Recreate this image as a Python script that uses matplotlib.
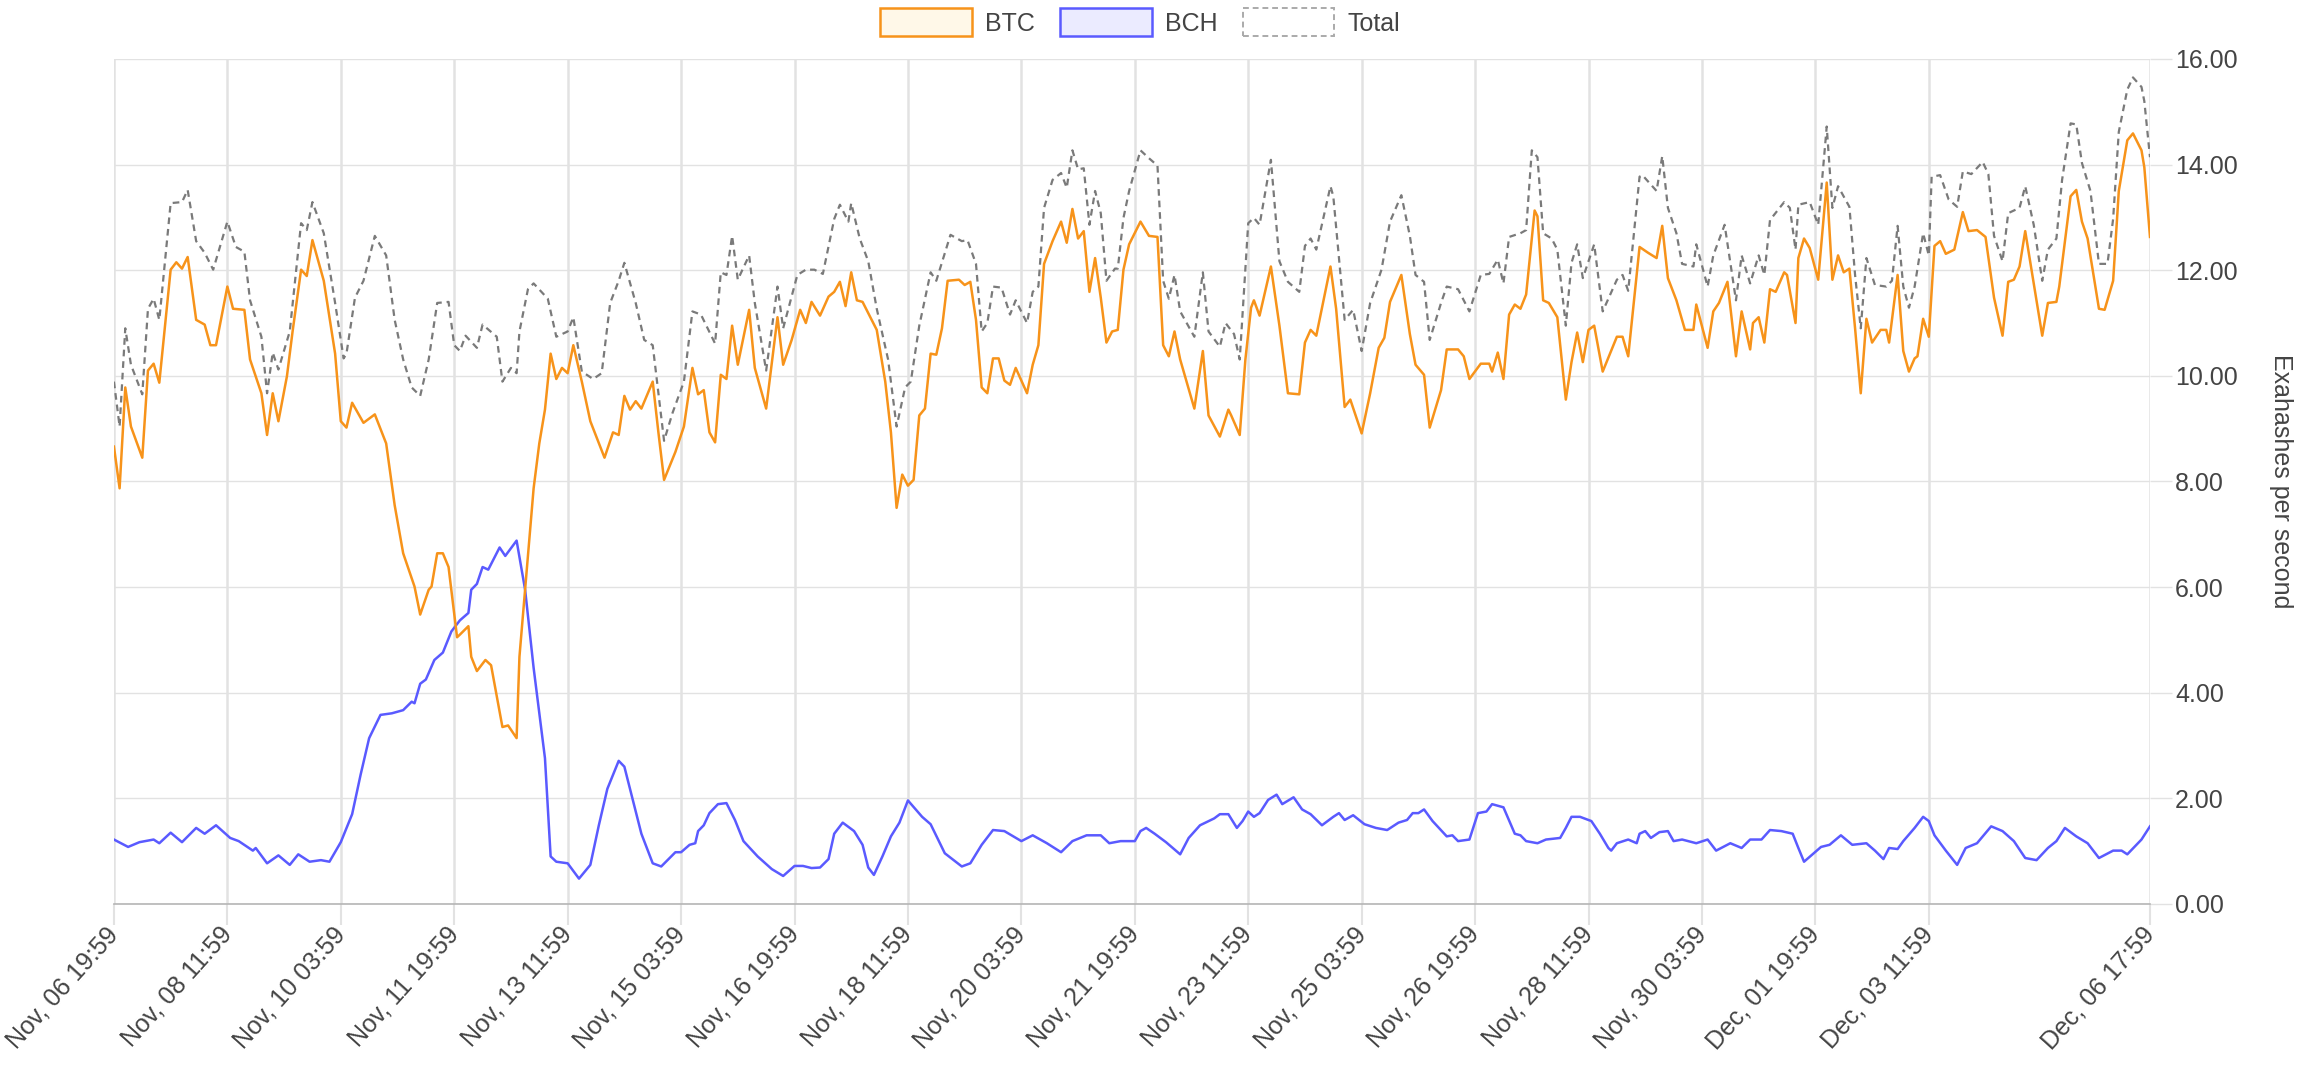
import numpy as np
import matplotlib
matplotlib.use("Agg")
import matplotlib.pyplot as plt
from matplotlib.patches import Patch

# hours after Nov 06 19:59, value in EH/s
btc_points = [
    (0, 8.66), (2, 7.87), (4, 9.78), (6, 9.04), (10, 8.45), (12, 10.10), (14, 10.23), (16, 9.87),
    (20, 12.01), (22, 12.15), (24, 12.03), (26, 12.25), (29, 11.06), (32, 10.97), (34, 10.58), (36, 10.58),
    (40, 11.69), (42, 11.27), (46, 11.25), (48, 10.31), (52, 9.67), (54, 8.88), (56, 9.67), (58, 9.14),
    (61, 9.99), (63, 10.84), (66, 12.01), (68, 11.89), (70, 12.57), (74, 11.80), (78, 10.42), (80, 9.14),
    (82, 9.02), (84, 9.49), (88, 9.11), (92, 9.27), (96, 8.72), (99, 7.55), (102, 6.64), (106, 6.01),
    (108, 5.48), (111, 5.95), (112, 6.01), (114, 6.64), (116, 6.64), (118, 6.38), (121, 5.05), (122, 5.10),
    (125, 5.26), (126, 4.68), (128, 4.41), (131, 4.62), (133, 4.52), (135, 3.93), (137, 3.35), (139, 3.38),
    (142, 3.14), (143, 4.68), (146, 6.59), (148, 7.87), (150, 8.72), (152, 9.36), (154, 10.42), (156, 9.94),
    (158, 10.15), (160, 10.05), (162, 10.58), (165, 9.89), (168, 9.14), (173, 8.45), (176, 8.93), (178, 8.88),
    (180, 9.62), (182, 9.36), (184, 9.52), (186, 9.38), (190, 9.89), (192, 8.93), (194, 8.03), (198, 8.56),
    (201, 9.04), (204, 10.15), (206, 9.65), (208, 9.73), (210, 8.93), (212, 8.74), (214, 10.02), (216, 9.94),
    (218, 10.95), (220, 10.21), (224, 11.25), (226, 10.15), (230, 9.38), (234, 11.11), (236, 10.21), (239, 10.68),
    (242, 11.25), (244, 11.00), (246, 11.40), (249, 11.14), (252, 11.50), (254, 11.59), (256, 11.78), (258, 11.32),
    (260, 11.96), (262, 11.43), (264, 11.40), (269, 10.87), (272, 9.89), (274, 8.93), (276, 7.50), (278, 8.13),
    (280, 7.92), (282, 8.03), (284, 9.25), (286, 9.38), (288, 10.42), (290, 10.40), (292, 10.90), (294, 11.80),
    (298, 11.82), (300, 11.72), (302, 11.78), (304, 11.06), (306, 9.78), (308, 9.67), (310, 10.33), (312, 10.33),
    (314, 9.91), (316, 9.83), (318, 10.15), (322, 9.67), (324, 10.21), (326, 10.58), (328, 12.12), (331, 12.55),
    (334, 12.92), (336, 12.52), (338, 13.16), (340, 12.60), (342, 12.74), (344, 11.59), (346, 12.23), (348, 11.48),
    (350, 10.63), (352, 10.84), (354, 10.87), (356, 12.01), (358, 12.49), (362, 12.92), (365, 12.65), (368, 12.63),
    (370, 10.58), (372, 10.37), (374, 10.84), (376, 10.31), (381, 9.38), (384, 10.47), (386, 9.25), (390, 8.85),
    (393, 9.36), (394, 9.25), (397, 8.88), (399, 10.31), (401, 11.29), (402, 11.43), (404, 11.14), (408, 12.07),
    (411, 10.95), (414, 9.67), (418, 9.65), (420, 10.63), (422, 10.87), (424, 10.76), (429, 12.07), (431, 11.27),
    (434, 9.41), (436, 9.55), (440, 8.91), (443, 9.67), (446, 10.53), (448, 10.72), (450, 11.40), (454, 11.91),
    (457, 10.79), (459, 10.21), (462, 10.02), (464, 9.02), (468, 9.73), (470, 10.50), (474, 10.50), (476, 10.37),
    (478, 9.94), (482, 10.23), (485, 10.23), (486, 10.08), (488, 10.44), (490, 9.94), (492, 11.16), (494, 11.35),
    (496, 11.27), (498, 11.54), (501, 13.13), (502, 13.02), (504, 11.43), (506, 11.38), (509, 11.11), (512, 9.55),
    (514, 10.26), (516, 10.82), (518, 10.26), (520, 10.87), (522, 10.95), (525, 10.08), (530, 10.74), (532, 10.74),
    (534, 10.37), (538, 12.44), (541, 12.33), (544, 12.23), (546, 12.84), (548, 11.85), (551, 11.43), (554, 10.87),
    (557, 10.87), (558, 11.35), (562, 10.53), (564, 11.22), (566, 11.38), (569, 11.78), (572, 10.37), (574, 11.22),
    (577, 10.50), (578, 11.00), (580, 11.11), (582, 10.63), (584, 11.64), (586, 11.59), (589, 11.96), (590, 11.91),
    (593, 11.00), (594, 12.23), (596, 12.60), (598, 12.42), (601, 11.82), (604, 13.66), (606, 11.82), (608, 12.28),
    (610, 11.96), (612, 12.03), (614, 10.90), (616, 9.67), (618, 11.08), (620, 10.63), (623, 10.87), (625, 10.87),
    (626, 10.63), (629, 11.91), (631, 10.47), (633, 10.08), (635, 10.33), (636, 10.37), (638, 11.08), (640, 10.74),
    (642, 12.46), (644, 12.55), (646, 12.31), (649, 12.39), (652, 13.10), (654, 12.74), (657, 12.76), (660, 12.63),
    (663, 11.48), (666, 10.76), (668, 11.78), (670, 11.82), (672, 12.07), (674, 12.74), (677, 11.75), (680, 10.76),
    (682, 11.38), (685, 11.40), (686, 11.69), (690, 13.40), (692, 13.52), (694, 12.92), (696, 12.60), (700, 11.27),
    (702, 11.25), (705, 11.80), (707, 13.50), (710, 14.46), (712, 14.59), (715, 14.27), (716, 13.95), (718, 12.63),
]

bch_points = [
    (0, 1.22), (5, 1.08), (9, 1.17), (14, 1.22), (16, 1.15), (20, 1.35), (24, 1.17), (29, 1.44),
    (32, 1.33), (36, 1.49), (41, 1.25), (44, 1.19), (49, 1.01), (50, 1.06), (54, 0.77), (58, 0.92),
    (62, 0.74), (65, 0.94), (69, 0.80), (73, 0.83), (76, 0.80), (80, 1.17), (84, 1.70), (87, 2.45),
    (90, 3.14), (94, 3.58), (98, 3.61), (102, 3.67), (105, 3.83), (106, 3.80), (108, 4.17), (110, 4.25),
    (113, 4.62), (116, 4.76), (119, 5.16), (122, 5.37), (125, 5.51), (126, 5.95), (128, 6.06), (130, 6.38),
    (132, 6.33), (136, 6.75), (138, 6.59), (142, 6.88), (145, 5.95), (148, 4.47), (152, 2.76), (154, 0.90),
    (156, 0.80), (160, 0.77), (164, 0.48), (168, 0.74), (171, 1.49), (174, 2.18), (178, 2.71), (180, 2.60),
    (186, 1.33), (190, 0.77), (193, 0.71), (198, 0.98), (200, 0.98), (203, 1.12), (205, 1.15), (206, 1.38),
    (208, 1.49), (210, 1.72), (213, 1.89), (216, 1.91), (219, 1.59), (222, 1.19), (227, 0.90), (232, 0.66),
    (236, 0.53), (240, 0.72), (243, 0.72), (246, 0.68), (249, 0.69), (252, 0.85), (254, 1.33), (257, 1.54),
    (261, 1.38), (264, 1.12), (266, 0.69), (268, 0.55), (271, 0.90), (274, 1.28), (277, 1.54), (280, 1.96),
    (285, 1.65), (288, 1.51), (293, 0.96), (299, 0.71), (302, 0.77), (306, 1.12), (310, 1.40), (314, 1.38),
    (320, 1.19), (324, 1.30), (329, 1.15), (334, 0.98), (338, 1.19), (343, 1.30), (348, 1.30), (351, 1.15),
    (355, 1.19), (360, 1.19), (362, 1.38), (364, 1.44), (367, 1.33), (371, 1.17), (376, 0.94), (379, 1.25),
    (383, 1.49), (388, 1.62), (390, 1.70), (393, 1.70), (396, 1.44), (398, 1.57), (400, 1.75), (402, 1.65),
    (404, 1.72), (407, 1.97), (410, 2.07), (412, 1.89), (416, 2.02), (419, 1.79), (422, 1.70), (426, 1.49),
    (430, 1.65), (432, 1.72), (434, 1.59), (437, 1.68), (441, 1.51), (445, 1.44), (449, 1.40), (453, 1.54),
    (456, 1.59), (458, 1.72), (460, 1.72), (462, 1.79), (465, 1.57), (470, 1.28), (472, 1.30), (474, 1.19),
    (478, 1.22), (481, 1.72), (484, 1.75), (486, 1.89), (490, 1.83), (494, 1.33), (496, 1.30), (498, 1.19),
    (502, 1.15), (505, 1.22), (510, 1.25), (512, 1.44), (514, 1.65), (517, 1.65), (521, 1.57), (524, 1.33),
    (527, 1.06), (528, 1.01), (530, 1.15), (534, 1.22), (537, 1.15), (538, 1.33), (540, 1.38), (542, 1.25),
    (545, 1.36), (548, 1.38), (550, 1.19), (553, 1.22), (558, 1.15), (562, 1.22), (565, 1.01), (570, 1.15),
    (574, 1.06), (577, 1.22), (581, 1.22), (584, 1.40), (588, 1.38), (592, 1.33), (594, 1.06), (596, 0.80),
    (602, 1.08), (605, 1.12), (609, 1.30), (613, 1.12), (618, 1.15), (621, 1.01), (624, 0.85), (626, 1.06),
    (629, 1.04), (631, 1.19), (635, 1.44), (638, 1.65), (640, 1.57), (642, 1.30), (646, 1.01), (650, 0.74),
    (653, 1.06), (657, 1.15), (662, 1.47), (666, 1.38), (670, 1.19), (674, 0.87), (678, 0.83), (682, 1.06),
    (685, 1.19), (688, 1.44), (692, 1.28), (696, 1.15), (700, 0.87), (705, 1.01), (708, 1.01), (710, 0.94),
    (715, 1.22), (718, 1.47),
]

total_points = [
    (0, 9.89), (2, 9.04), (4, 10.90), (6, 10.21), (10, 9.65), (12, 11.27), (14, 11.46), (16, 11.06),
    (20, 13.27), (24, 13.29), (26, 13.52), (29, 12.55), (32, 12.33), (35, 12.01), (40, 12.92), (43, 12.44),
    (46, 12.35), (48, 11.43), (52, 10.74), (54, 9.67), (56, 10.44), (58, 10.12), (62, 10.84), (66, 12.89),
    (68, 12.76), (70, 13.29), (74, 12.70), (78, 11.38), (81, 10.33), (82, 10.42), (85, 11.48), (88, 11.80),
    (92, 12.65), (96, 12.28), (99, 11.06), (102, 10.31), (105, 9.78), (108, 9.62), (111, 10.31), (114, 11.38),
    (118, 11.40), (120, 10.58), (122, 10.47), (124, 10.76), (128, 10.53), (130, 10.97), (135, 10.74), (137, 9.89),
    (140, 10.15), (142, 10.05), (143, 10.84), (146, 11.64), (148, 11.75), (153, 11.46), (156, 10.74), (160, 10.84),
    (162, 11.11), (165, 10.08), (169, 9.94), (172, 10.05), (175, 11.38), (178, 11.80), (180, 12.14), (184, 11.38),
    (187, 10.68), (190, 10.58), (194, 8.77), (197, 9.30), (201, 9.89), (204, 11.22), (207, 11.16), (212, 10.61),
    (214, 11.96), (216, 11.91), (218, 12.65), (220, 11.82), (224, 12.28), (226, 11.38), (230, 10.10), (234, 11.69),
    (236, 10.90), (241, 11.91), (244, 12.01), (247, 12.01), (250, 11.93), (254, 12.97), (256, 13.24), (259, 12.92),
    (260, 13.27), (263, 12.60), (266, 12.17), (269, 11.27), (273, 10.31), (276, 9.04), (279, 9.78), (281, 9.89),
    (284, 10.95), (288, 11.96), (290, 11.80), (295, 12.67), (299, 12.55), (301, 12.57), (304, 12.12), (306, 10.84),
    (308, 11.00), (310, 11.69), (313, 11.67), (316, 11.16), (318, 11.43), (322, 11.00), (324, 11.59), (326, 11.69),
    (328, 13.18), (331, 13.71), (334, 13.84), (336, 13.56), (338, 14.27), (340, 13.91), (342, 13.93), (344, 12.86),
    (346, 13.50), (348, 13.08), (350, 11.80), (353, 12.03), (354, 12.03), (356, 12.99), (358, 13.50), (362, 14.27),
    (365, 14.12), (368, 13.98), (370, 11.80), (372, 11.46), (374, 11.91), (376, 11.22), (381, 10.74), (384, 11.96),
    (386, 10.84), (390, 10.55), (392, 11.00), (395, 10.79), (397, 10.31), (400, 12.89), (402, 12.99), (404, 12.86),
    (408, 14.09), (411, 12.17), (414, 11.78), (418, 11.59), (420, 12.46), (422, 12.60), (424, 12.39), (429, 13.59),
    (430, 13.40), (434, 11.06), (437, 11.25), (440, 10.47), (443, 11.38), (447, 12.01), (450, 12.92), (454, 13.42),
    (457, 12.65), (459, 11.91), (462, 11.78), (464, 10.68), (468, 11.38), (470, 11.69), (474, 11.64), (478, 11.22),
    (482, 11.91), (485, 11.93), (488, 12.20), (490, 11.75), (492, 12.63), (496, 12.70), (498, 12.76), (500, 14.27),
    (502, 14.14), (504, 12.70), (507, 12.60), (509, 12.39), (512, 10.95), (514, 12.14), (516, 12.49), (518, 11.85),
    (522, 12.49), (525, 11.22), (530, 11.82), (532, 11.91), (534, 11.61), (538, 13.77), (539, 13.80), (544, 13.50),
    (546, 14.16), (548, 13.18), (551, 12.70), (553, 12.12), (557, 12.07), (558, 12.49), (562, 11.69), (564, 12.28),
    (568, 12.86), (572, 11.43), (574, 12.28), (577, 11.75), (580, 12.28), (582, 11.91), (584, 12.95), (589, 13.29),
    (591, 13.18), (593, 12.39), (594, 13.24), (598, 13.29), (601, 12.86), (604, 14.72), (606, 13.18), (608, 13.59),
    (612, 13.20), (614, 11.91), (616, 10.90), (618, 12.23), (621, 11.72), (625, 11.69), (627, 11.80), (629, 12.84),
    (631, 11.69), (633, 11.29), (635, 11.69), (638, 12.70), (640, 12.28), (641, 13.77), (644, 13.80), (647, 13.34),
    (650, 13.20), (652, 13.87), (655, 13.82), (659, 14.05), (661, 13.82), (663, 12.65), (666, 12.17), (668, 13.08),
    (672, 13.18), (674, 13.59), (677, 12.86), (680, 11.80), (682, 12.39), (685, 12.60), (687, 13.71), (690, 14.78),
    (692, 14.76), (694, 14.03), (697, 13.50), (700, 12.12), (703, 12.12), (705, 12.97), (707, 14.62), (710, 15.42),
    (712, 15.65), (715, 15.47), (716, 15.20), (718, 14.14),
]

tick_hours = [0, 40, 80, 120, 160, 200, 240, 280, 320, 360, 400, 440, 480, 520, 560, 600, 640, 718]
tick_labels = ["Nov, 06 19:59", "Nov, 08 11:59", "Nov, 10 03:59", "Nov, 11 19:59", "Nov, 13 11:59",
               "Nov, 15 03:59", "Nov, 16 19:59", "Nov, 18 11:59", "Nov, 20 03:59", "Nov, 21 19:59",
               "Nov, 23 11:59", "Nov, 25 03:59", "Nov, 26 19:59", "Nov, 28 11:59", "Nov, 30 03:59",
               "Dec, 01 19:59", "Dec, 03 11:59", "Dec, 06 17:59"]

btc_color = "#f7931a"
bch_color = "#5a5aff"
total_color = "#7a7a7a"
text_color = "#444444"
grid_color = "#e2e2e2"

plt.rcParams["font.family"] = ["Liberation Sans", "DejaVu Sans"]
plt.rcParams["font.size"] = 18

fig = plt.figure(figsize=(22.97, 10.66), dpi=100)
ax = fig.add_axes([0.0496, 0.152, 0.8864, 0.7927])

btc = np.array(btc_points)
bch = np.array(bch_points)
tot = np.array(total_points)

ax.plot(tot[:, 0], tot[:, 1], color=total_color, lw=1.6, dashes=(3, 2.2), zorder=3)
ax.plot(bch[:, 0], bch[:, 1], color=bch_color, lw=1.8, zorder=4)
ax.plot(btc[:, 0], btc[:, 1], color=btc_color, lw=1.8, zorder=5)

ax.set_xlim(0, 718)
ax.set_ylim(0, 16)

ax.set_xticks(tick_hours)
ax.set_xticklabels(tick_labels, rotation=48, ha="right", va="center", rotation_mode="anchor")
ax.set_yticks(np.arange(0, 17, 2))
ax.yaxis.set_major_formatter(matplotlib.ticker.FormatStrFormatter("%.2f"))
ax.yaxis.tick_right()

ax.tick_params(axis="x", length=15, width=1.5, color=grid_color, pad=4, labelcolor=text_color, labelsize=18)
ax.tick_params(axis="y", length=16, width=1.0, color=grid_color, pad=2, labelcolor=text_color, labelsize=18)

ax.grid(axis="y", color=grid_color, lw=1.0)
ax.grid(axis="x", color=grid_color, lw=1.8)
ax.set_axisbelow(True)

for side in ["left", "top", "right"]:
    ax.spines[side].set_visible(False)
ax.spines["bottom"].set_color("#b5b5b5")
ax.spines["bottom"].set_linewidth(1.2)

ax.yaxis.set_label_position("right")
ax.set_ylabel("Exahashes per second", color=text_color, fontsize=18)
ax.yaxis.label.set_rotation(270)
ax.yaxis.label.set_rotation_mode("anchor")
ax.yaxis.label.set_va("center")
ax.yaxis.label.set_ha("center")
ax.yaxis.set_label_coords(1.0645, 0.5)

handles = [
    Patch(facecolor="#fff8e8", edgecolor=btc_color, lw=1.8, label="BTC"),
    Patch(facecolor="#ebebff", edgecolor=bch_color, lw=1.8, label="BCH"),
    Patch(facecolor="white", edgecolor="#aaaaaa", lw=1.4, linestyle=(0, (3, 2)), label="Total"),
]
leg = fig.legend(handles=handles, loc="center", bbox_to_anchor=(0.4965, 0.979), ncol=3, frameon=False,
                 handlelength=3.65, handleheight=1.35, handletextpad=0.55, columnspacing=1.0, fontsize=18)
for t in leg.get_texts():
    t.set_color(text_color)

fig.savefig("out.png", dpi=100, facecolor="white")
